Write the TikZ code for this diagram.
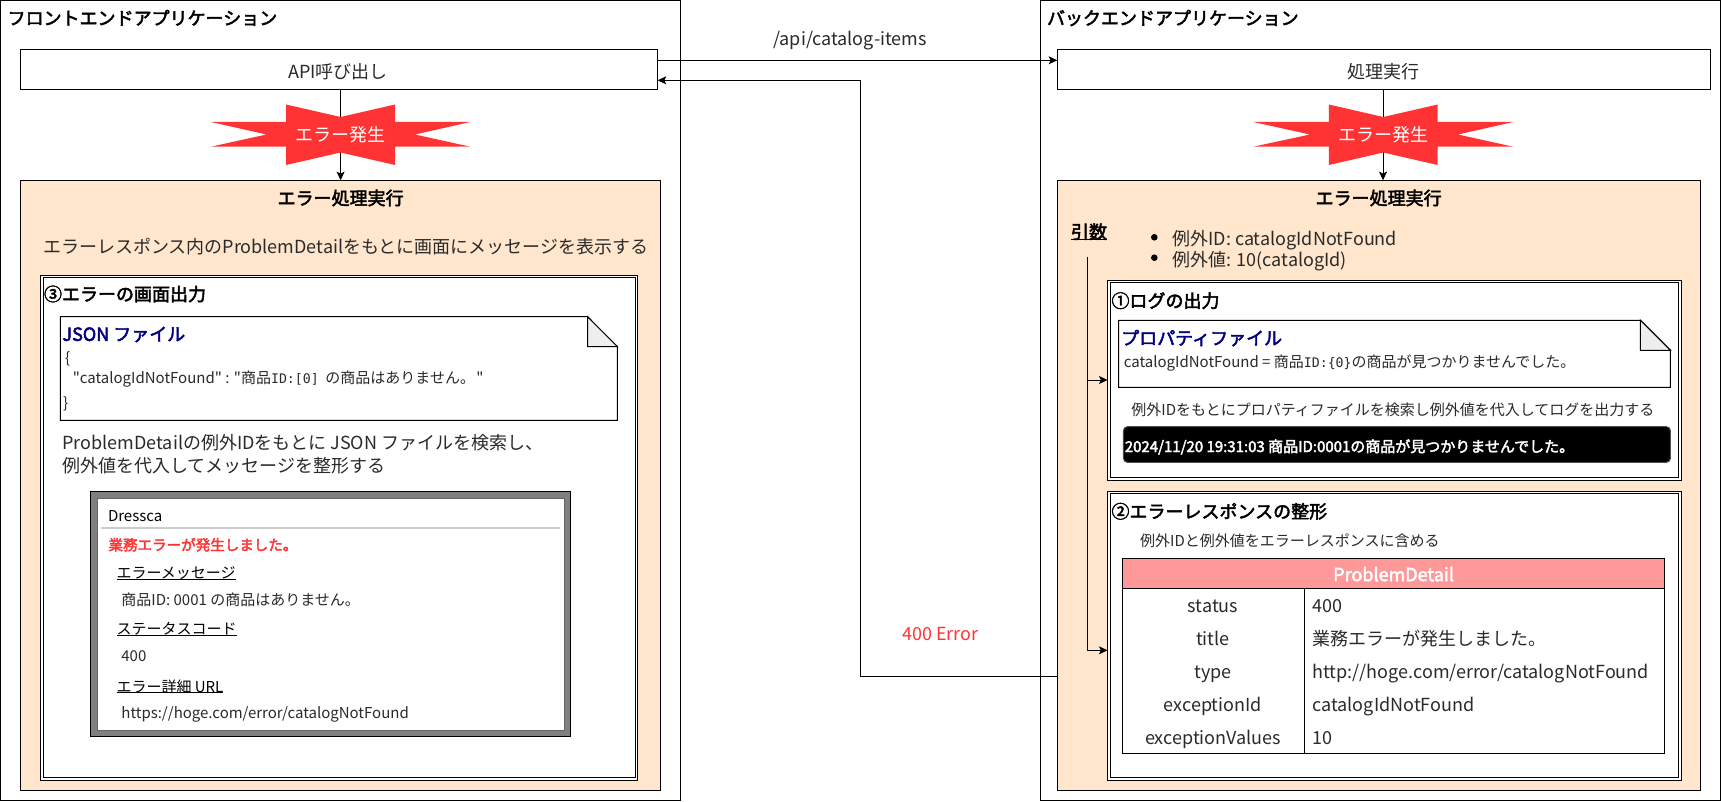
\documentclass[tikz,border=0pt]{standalone}
\usepackage{fontspec}
\setmainfont{Noto Sans CJK JP}[BoldFont={Noto Sans CJK JP},BoldFeatures={FakeBold=2.6}]
\newfontfamily\plainf{Noto Sans CJK JP}
\newfontfamily\monof[Scale=0.88]{DejaVu Sans Mono}
\usetikzlibrary{arrows.meta}
\definecolor{peach}{HTML}{FFE6CC}
\definecolor{errred}{HTML}{FF3333}
\definecolor{navyt}{HTML}{000080}
\definecolor{ink}{HTML}{2A2A2A}
\definecolor{foldc}{HTML}{EEEEEE}
\definecolor{headp}{HTML}{FF9999}
\tikzset{
  pb/.style={draw=black,line width=0.75pt,fill=white,inner sep=0pt,outer sep=0pt},
  orangebox/.style={pb,fill=peach},
  arr/.style={draw=black,line width=0.75pt,-{Stealth[length=6.5pt,width=6pt,inset=1.5pt]}},
  plain/.style={draw=black,line width=0.75pt},
  lbl/.style={inner sep=0pt,outer sep=0pt,text=ink,font=\fontsize{13.5pt}{16pt}\selectfont,text height=10.26pt,text depth=0pt},
  small/.style={font=\fontsize{11.25pt}{14pt}\selectfont,text height=9pt,text depth=1pt},
  mid/.style={font=\fontsize{11.25pt}{14pt}\selectfont,text height=9pt,text depth=1pt},
  hd/.style={text=black,font=\fontsize{13.5pt}{16pt}\selectfont\bfseries},
  midb/.style={text=black,font=\fontsize{11.25pt}{14pt}\selectfont\bfseries,text height=9pt,text depth=1pt},
  navyh/.style={text=navyt,font=\fontsize{13.5pt}{16pt}\selectfont\bfseries},
  whitet/.style={text=white},
  starfill/.style={fill=errred,draw=none},
  notefold/.style={fill=foldc,draw=black,line width=0.75pt,line join=miter},
}
\newcommand{\pbx}[6]{\node[#2,minimum width={(#5-#3)*0.75pt},minimum height={(#6-#4)*0.75pt}] (#1) at ({(#3+#5)/2},{(#4+#6)/2}) {};}
\newcommand{\tl}[5]{\node[lbl,anchor=west,#2] (#1) at (#3,#4) {#5};}
\newcommand{\tc}[5]{\node[lbl,anchor=center,#2] (#1) at (#3,#4) {#5};}
\newcommand{\ulx}[1]{\setbox0=\hbox{#1}\rlap{\rule[-.06em]{\wd0}{.06em}}\box0}
\newcommand{\qq}{{\plainf"}}
\newcommand{\burst}[6]{%
  \fill[starfill] (#2,122) -- (#4,122) -- (#4,104.5) -- (#1,117) -- (#5,104.5) -- (#5,122) -- ({2*#1-#2},122) -- (#6,134.5) -- ({2*#1-#2},146.7) -- (#5,146.7) -- (#5,165) -- (#1,152.5) -- (#4,165) -- (#4,146.7) -- (#2,146.7) -- (#3,134.5) -- cycle;}
\newcommand{\notepath}[6]{%
  \draw[pb] (#1,#2) -- (#5,#2) -- (#3,#6) -- (#3,#4) -- (#1,#4) -- cycle;
  \draw[notefold] (#5,#2) -- (#3,#6) -- (#5,#6) -- cycle;}
\begin{document}
\begin{tikzpicture}[x=0.75pt,y=-0.75pt]
\useasboundingbox (0,0) rectangle (1721,802);
\fill[white] (0,0) rectangle (1721,802);

% ---- outer frames
\pbx{frontapp}{pb}{0.5}{0.5}{680.4}{800}
\pbx{backapp}{pb}{1040.5}{0.5}{1720.5}{800}
\tl{frontT}{hd}{7.6}{18}{フロントエンドアプリケーション}
\tl{backT}{hd}{1047}{18}{バックエンドアプリケーション}

% ---- call boxes and process boxes
\pbx{api}{pb}{20.5}{50}{657.6}{90}
\tc{apiT}{}{338}{71.5}{API呼び出し}
\pbx{proc}{pb}{1057.3}{50}{1710.5}{90}
\tc{procT}{}{1383.5}{71.5}{処理実行}
\pbx{errL}{orangebox}{20.5}{180.3}{660.7}{790.3}
\pbx{errR}{orangebox}{1057.3}{180.3}{1700.8}{790.3}

% ---- connectors behind the bursts
\coordinate (burstL) at (340.6,135);
\coordinate (burstR) at (1383,135);
\draw[arr] (burstL |- api.south) -- (burstL |- errL.north);
\draw[arr] (burstR |- proc.south) -- (burstR |- errR.north);
\burst{340.6}{211}{266.5}{286}{395}{415}
\burst{1383.3}{1253.4}{1309.9}{1328.8}{1437.7}{1458}
\tc{burstLT}{whitet}{340.6}{135}{エラー発生}
\tc{burstRT}{whitet}{1383}{135}{エラー発生}

% ---- connectors between applications
\draw[arr] (api.east |- 0,60.3) -- (proc.west |- 0,60.3);
\tc{apiurl}{}{850}{38.3}{/api/catalog-items}
\draw[arr] (errR.west |- 0,676) -- (860.3,676) -- (860.3,80.3) -- (api.east |- 0,80.3);
\tc{err400}{text=errred}{940.3}{633.3}{400 Error}

% ---- left process
\tc{errLT}{hd}{340.6}{198}{エラー処理実行}
\tl{errLD}{}{43}{247}{エラーレスポンス内のProblemDetailをもとに画面にメッセージを表示する}
\pbx{scrO}{pb}{40.6}{275.3}{637.5}{780.3}
\pbx{scrI}{pb}{43}{277.7}{635.1}{777.9}
\tl{scrT}{hd}{44}{294}{③エラーの画面出力}
\notepath{60.3}{316.7}{617.4}{420.3}{587.5}{346.7}
\tl{jsonT}{navyh}{62.5}{334}{JSON ファイル}
\tl{jsonA}{small}{65}{358}{\{}
\tl{jsonB}{small}{72.8}{378}{\qq catalogIdNotFound\qq{} : \qq 商品{\monof ID:[0]}\hspace{2.5pt} の商品はありません。\hspace{1pt}\qq}
\tl{jsonC}{small}{63}{403}{\}}
\tl{scrD1}{}{62.5}{443}{ProblemDetailの例外IDをもとに JSON ファイルを検索し、}
\tl{scrD2}{}{62.5}{465.7}{例外値を代入してメッセージを整形する}
\pbx{winO}{pb,fill=black!50}{90.6}{491.7}{570.5}{736.3}
\pbx{winI}{pb,draw=black!60}{97}{498}{564.3}{730.3}
\tl{winT}{mid,text=black}{108}{516}{Dressca}
\draw[draw=black!20,line width=1.5pt] (winI.west |- 0,528.3) ++(3.5,0) -- (560,528.3);
\tl{winE}{mid,text=errred,font=\fontsize{10.9pt}{14pt}\selectfont\bfseries}{108.5}{545}{業務エラーが発生しました。}
\tl{winH1}{mid,text=black}{116.5}{573.3}{\ulx{エラーメッセージ}}
\tl{winV1}{small}{121.4}{600}{商品ID: 0001 の商品はありません。}
\tl{winH2}{mid,text=black}{116.5}{629.3}{\ulx{ステータスコード}}
\tl{winV2}{small}{121.4}{655.7}{400}
\tl{winH3}{mid,text=black}{116.5}{686.7}{\ulx{エラー詳細 URL}}
\tl{winV3}{small}{121.4}{712.7}{https://hoge.com/error/catalogNotFound}

% ---- right process
\tc{errRT}{hd}{1378.6}{198}{エラー処理実行}
\tl{argsT}{hd}{1071}{231.7}{\ulx{引数}}
\fill[black] (1154.3,237.3) circle (3.3);
\fill[black] (1154.3,257.7) circle (3.3);
\tl{arg1}{}{1172.4}{238.7}{例外ID: catalogIdNotFound}
\tl{arg2}{}{1172.4}{259.7}{例外値: 10(catalogId)}

\pbx{logO}{pb}{1107.6}{280.3}{1681}{480.3}
\pbx{logI}{pb}{1110}{282.7}{1678.6}{477.9}
\tl{logT}{hd}{1111.5}{300.7}{①ログの出力}
\notepath{1118.6}{320.3}{1670.4}{387.3}{1640.4}{350.3}
\tl{propT}{navyh}{1121.2}{338}{プロパティファイル}
\tl{propL}{small}{1123.9}{362.3}{catalogIdNotFound = 商品{\monof ID:\{0\}}の商品が見つかりませんでした。}
\tl{logD}{small}{1131.4}{410}{例外IDをもとにプロパティファイルを検索し例外値を代入してログを出力する}
\draw[fill=black,draw=black!70,line width=0.75pt,rounded corners=3pt] (1123.4,426.7) rectangle (1670.4,462.3);
\tl{logL}{midb,text=white}{1124.8}{446.7}{2024/11/20 19:31:03 商品ID:0001の商品が見つかりませんでした。}

\pbx{resO}{pb}{1107.6}{491.3}{1681}{780.3}
\pbx{resI}{pb}{1110}{493.7}{1678.6}{777.9}
\tl{resT}{hd}{1111.5}{511.3}{②エラーレスポンスの整形}
\tl{resD}{small}{1140.2}{540.7}{例外IDと例外値をエラーレスポンスに含める}

\pbx{tab}{pb}{1122.6}{558.3}{1664.6}{753.3}
\pbx{tabH}{pb,fill=headp}{1122.6}{558.3}{1664.6}{588.7}
\tc{tabHT}{hd,text=white}{1393.6}{574.3}{ProblemDetail}
\draw[plain] (1304.6,588.7) -- (1304.6,753.3);
\tc{k1}{}{1213}{605.5}{status}
\tc{k2}{}{1213}{639}{title}
\tc{k3}{}{1213}{672}{type}
\tc{k4}{}{1213}{705}{exceptionId}
\tc{k5}{}{1213}{738}{exceptionValues}
\tl{v1}{}{1312.5}{605.5}{400}
\tl{v2}{}{1312.5}{639}{業務エラーが発生しました。}
\tl{v3}{}{1312.5}{672}{http://hoge.com/error/catalogNotFound}
\tl{v4}{}{1312.5}{705}{catalogIdNotFound}
\tl{v5}{}{1312.5}{738}{10}

% ---- argument connectors
\coordinate (argS) at (1087.3,257);
\draw[plain] (argS) -- (1087.3,650.3);
\draw[arr] (1087.3,380) -- (logO.west |- 0,380);
\draw[arr] (argS) |- (resO.west |- 0,650.3);
\end{tikzpicture}
\end{document}
